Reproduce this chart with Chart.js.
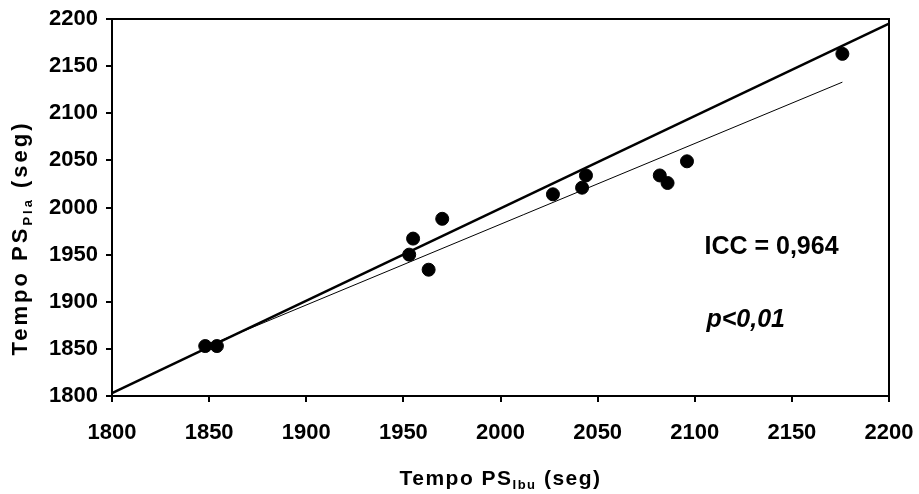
<!DOCTYPE html>
<html>
<head>
<meta charset="utf-8">
<script src="https://cdn.jsdelivr.net/npm/chart.js@4/dist/chart.umd.min.js"></script>
<style>
  html, body { margin: 0; padding: 0; background: #fff; }
  #wrap { width: 919px; height: 494px; }
</style>
</head>
<body>
<div id="wrap"><canvas id="icc"></canvas></div>
<script>
// Tempo PS (seg): Ibu (x) vs Pla (y)
var ibuTimes = [1848, 1854, 1953, 1955, 1963, 1970, 2027, 2042, 2044, 2082, 2086, 2096, 2176]
var plaTimes = [1853, 1853, 1950, 1967, 1934, 1988, 2014, 2021, 2034, 2034, 2026, 2049, 2163]

// thick reference line and thin fitted line (end points)
var refX = [1800, 2200]
var refY = [1803, 2195]
var fitX = [1848, 2176]
var fitY = [1852, 2133]

var axisMin = 1800
var axisMax = 2200
var axisStep = 50

var iccLabel = 'ICC = 0,964'
var pLabel = 'p<0,01'
var xTitle = ['Tempo PS', 'Ibu', ' (seg)']
var yTitle = ['Tempo PS', 'Pla', ' (seg)']

function toPoints(xs, ys){
    var pts = []
    for (var i = 0; i < xs.length; i++) {
        pts.push({x: xs[i], y: ys[i]})
    }
    return pts
}

var FONT = '"Liberation Sans", Arial, sans-serif'

function drawSubTitle(ctx, parts, cx, cy, size, spacing){
    var subSize = Math.round(size * 0.6)
    var widths = []
    var total = 0
    ctx.letterSpacing = spacing + 'px'
    for (var i = 0; i < parts.length; i++) {
        ctx.font = 'bold ' + (i == 1 ? subSize : size) + 'px ' + FONT
        var w = ctx.measureText(parts[i]).width
        widths.push(w)
        total += w
    }
    var x = cx - total / 2
    ctx.textBaseline = 'alphabetic'
    ctx.textAlign = 'left'
    var base = cy + size * 0.36
    for (var j = 0; j < parts.length; j++) {
        ctx.font = 'bold ' + (j == 1 ? subSize : size) + 'px ' + FONT
        ctx.fillText(parts[j], x, j == 1 ? base + size * 0.22 : base)
        x += widths[j]
    }
    ctx.letterSpacing = '0px'
}

var decorations = {
    id: 'decorations',
    afterDraw: function(chart){
        var ctx = chart.ctx
        var a = chart.chartArea
        var xs = chart.scales.x
        var ys = chart.scales.y
        ctx.save()
        // frame top / right
        ctx.strokeStyle = '#000'
        ctx.lineWidth = 2
        ctx.beginPath()
        ctx.moveTo(a.left, a.top)
        ctx.lineTo(a.right, a.top)
        ctx.lineTo(a.right, a.bottom)
        ctx.stroke()

        ctx.fillStyle = '#000'
        ctx.textAlign = 'left'
        ctx.textBaseline = 'middle'
        ctx.font = 'bold 25px ' + FONT
        ctx.fillText(iccLabel, xs.getPixelForValue(2105), ys.getPixelForValue(1958))
        ctx.font = 'italic bold 25px ' + FONT
        ctx.fillText(pLabel, xs.getPixelForValue(2106), ys.getPixelForValue(1881))

        // axis titles with subscripts
        drawSubTitle(ctx, xTitle, (a.left + a.right) / 2, 477, 21, 1.5)
        ctx.translate(19, 238)
        ctx.rotate(-Math.PI / 2)
        drawSubTitle(ctx, yTitle, 0, 0, 22, 3)
        ctx.restore()
    }
}

var ctx = document.getElementById('icc')
ctx.width = 919
ctx.height = 494

var chart = new Chart(ctx, {
    type: 'scatter',
    data: {
        datasets: [
            {
                label: 'pontos',
                data: toPoints(ibuTimes, plaTimes),
                backgroundColor: '#000',
                borderColor: '#000',
                pointRadius: 6.5,
                pointHoverRadius: 6.5
            },
            {
                label: 'referencia',
                data: toPoints(refX, refY),
                showLine: true,
                borderColor: '#000',
                borderWidth: 2.5,
                pointRadius: 0
            },
            {
                label: 'ajuste',
                data: toPoints(fitX, fitY),
                showLine: true,
                borderColor: '#000',
                borderWidth: 1,
                pointRadius: 0
            }
        ]
    },
    options: {
        responsive: false,
        animation: false,
        events: [],
        layout: { padding: { top: 19, right: 30, left: 0, bottom: 0 } },
        plugins: {
            legend: { display: false },
            tooltip: { enabled: false }
        },
        scales: {
            x: {
                type: 'linear',
                min: axisMin,
                max: axisMax,
                afterFit: function(s){
                    s.height = 98
                    s.paddingLeft = 0
                    s.paddingRight = 0
                },
                ticks: {
                    stepSize: axisStep,
                    color: '#000',
                    padding: 18,
                    maxRotation: 0,
                    callback: function(v){ return String(v) },
                    font: { family: FONT, size: 22, weight: 'bold' }
                },
                grid: { drawOnChartArea: false, drawTicks: true, tickLength: 6, color: '#000', lineWidth: 2 },
                border: { display: true, color: '#000', width: 2 }
            },
            y: {
                type: 'linear',
                min: axisMin,
                max: axisMax,
                afterFit: function(s){
                    s.width = 112
                    s.paddingTop = 0
                    s.paddingBottom = 0
                },
                ticks: {
                    stepSize: axisStep,
                    color: '#000',
                    padding: 8,
                    callback: function(v){ return String(v) },
                    font: { family: FONT, size: 22, weight: 'bold' }
                },
                grid: { drawOnChartArea: false, drawTicks: true, tickLength: 6, color: '#000', lineWidth: 2 },
                border: { display: true, color: '#000', width: 2 }
            }
        }
    },
    plugins: [decorations]
})
</script>
</body>
</html>
